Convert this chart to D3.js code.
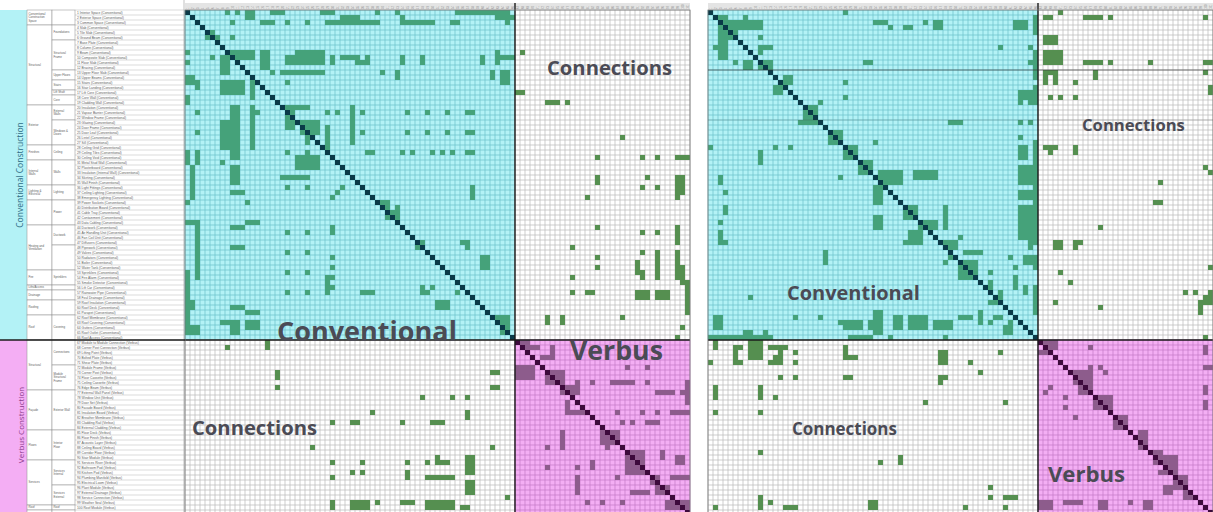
<!DOCTYPE html>
<html>
<head>
<meta charset="utf-8">
<title>DSM conventional vs Verbus</title>
<script src="https://d3js.org/d3.v7.min.js"></script>
<style>
  body { margin: 0; background: #fff; }
  svg { display: block; }
</style>
</head>
<body>
<svg width="1213" height="512"></svg>
<script>
// ---- data ----
const convNames = ["Interior Space","Exterior Space","Common Space","Slab","Tile Slab","Ground Beam","Base Plate","Column","Beam",
  "Composite Slab","Floor Slab","Bracing","Upper Floor Slab","Upper Beams","Stairs","Stair Landing","Lift Core","Core Wall","Cladding Wall",
  "Insulation","Vapour Barrier","Window Frame","Glazing","Door Frame","Door Leaf","Lintel","Sill","Ceiling Grid","Ceiling Tiles","Ceiling Void",
  "Metal Stud Wall","Plasterboard","Insulation (Internal Wall)","Skirting","Wall Finish","Light Fittings","Ceiling Lighting","Emergency Lighting",
  "Power Sockets","Distribution Board","Cable Tray","Containment","Data Cabling","Ductwork","Air Handling Unit","Fan Coil Unit","Diffusers",
  "Pipework","Valves","Radiators","Boiler","Water Tank","Sprinklers","Fire Alarm","Smoke Detector","Lift Car","Rainwater Pipe","Foul Drainage",
  "Roof Insulation","Roof Deck","Parapet","Roof Membrane","Roof Covering","Gutters","Roof Outlet","Roof Access"];
const verbNames = ["Module to Module Connection","Corner Post Connection","Lifting Point","Bolted Plate","Shear Plate","Module Frame",
  "Corner Post","Floor Cassette","Ceiling Cassette","Edge Beam","External Wall Panel","Window Unit","Door Set","Facade Board","Insulation Board",
  "Breather Membrane","Cladding Rail","External Cladding","Floor Deck","Floor Finish","Acoustic Layer","Ceiling Board","Corridor Floor","Stair Module",
  "Services Riser","Bathroom Pod","Kitchen Pod","Plumbing Manifold","Electrical Loom","Plant Module","External Drainage","Service Connection",
  "Weather Seal","Roof Module","Ramp Space"];

// [name, first row, number of rows]
const convGroups1 = [["Conventional Construction Space",0,3],["Structural",3,16],["Exterior",19,8],["Finishes",27,3],["Internal Walls",30,5],
  ["Lighting & Electrical",35,3],["",38,5],["Heating and Ventilation",43,9],["Fire",52,3],["Lifts/Access",55,1],["Drainage",56,2],["Roofing",58,3],["Roof",61,5]];
const convGroups2 = [["",0,3],["Foundations",3,3],["Structural Frame",6,6],["Upper Floors",12,2],["Stairs",14,2],["Lift Shaft",16,1],["Core",17,2],
  ["External Walls",19,3],["Windows & Doors",22,5],["Ceiling",27,3],["Walls",30,5],["Lighting",35,3],["Power",38,5],["Ductwork",43,4],["",47,5],
  ["Sprinklers",52,3],["",55,1],["",56,2],["",58,3],["Covering",61,5]];
const verbGroups1 = [["Structural",66,10],["Façade",76,8],["Floors",84,6],["Services",90,9],["Roof",99,1],["Space",100,1]];
const verbGroups2 = [["Connections",66,5],["Module Structural Frame",71,5],["Exterior Wall",76,8],["Interior Floor",84,6],
  ["Services Internal",90,5],["Services External",95,4],["Roof",99,1],["",100,1]];

// marked cells of the original ordering: [row, col, rows, cols]
const leftCells = [
  [0,8,1,1],[0,10,1,1],[0,12,2,2],[0,17,1,3],[0,27,1,3],[0,38,1,1],[0,42,1,1],[0,54,1,10],[0,64,2,1],
  [1,43,1,1],[1,31,1,4],[1,62,1,2],[1,65,1,1],
  [2,9,1,1],[2,15,1,3],[2,20,1,1],[2,24,1,1],[2,28,1,11],[2,43,1,7],[2,53,1,2],[2,64,1,1],
  [3,3,1,1],[4,4,2,2],[5,6,2,1],[5,9,1,1],
  [8,9,2,5],[8,15,4,2],[8,22,3,6],[8,0,1,1],[8,62,3,1],
  [9,5,1,1],[9,20,2,8],[9,29,2,1],[9,31,1,4],[10,34,1,2],[9,36,2,1],[9,43,2,1],[9,47,2,1],[9,59,2,1],[9,62,1,4],[10,0,1,1],
  [9,7,4,2],[12,17,1,1],[12,19,1,9],[12,39,1,1],[12,42,2,1],[12,61,2,1],[12,63,3,2],
  [13,0,2,2],[13,13,2,1],[14,20,1,1],[14,7,3,5],[14,2,2,1],[15,13,2,1],[17,0,2,1],[17,13,1,1],
  [19,19,1,6],[19,9,9,2],[19,13,9,1],
  [20,2,1,1],[20,14,1,1],[20,28,1,1],[20,30,1,1],[19,33,8,1],[20,35,1,1],[20,44,1,1],[20,48,1,1],[20,52,1,1],[20,56,1,2],
  [20,20,4,2],[22,23,3,4],[22,7,6,2],
  [24,2,1,1],[24,24,3,1],[23,28,5,1],[24,35,1,1],[24,44,1,1],[24,48,1,1],[24,52,1,1],[24,56,1,2],
  [28,0,3,1],[28,2,3,1],[28,9,2,2],[28,20,1,1],[28,24,1,1],[28,28,1,1],[28,36,1,2],[28,43,1,1],[28,45,1,1],[28,49,1,1],[28,51,1,1],[28,53,1,1],[28,56,1,2],
  [29,22,2,5],[30,7,1,1],
  [31,1,7,1],[31,9,4,2],[31,22,1,5],[33,19,1,6],[35,20,1,1],[35,24,1,1],[36,9,1,3],
  [35,31,1,1],[36,30,1,1],[37,29,1,1],[38,0,1,1],[38,12,1,1],[35,57,3,1],
  [38,39,2,2],[40,40,2,3],[39,42,1,1],
  [42,0,1,2],[42,2,12,1],[43,9,1,3],[42,12,1,3],
  [44,20,1,1],[48,20,1,1],[52,20,1,1],[56,20,1,1],[44,24,1,1],[48,24,1,1],[52,24,1,1],[56,24,1,1],
  [43,29,1,1],[44,29,1,1],[49,29,1,1],[51,29,1,1],[53,29,1,1],[55,29,1,1],
  [47,9,1,3],[46,46,2,2],[46,55,1,2],[47,56,1,1],[49,59,3,2],
  [52,0,12,1],[53,28,4,1],[56,35,1,3],[55,47,2,1],[56,48,1,1],[55,49,1,1],[56,54,1,1],[58,50,2,3],
  [58,1,2,1],[59,9,1,3],[60,12,1,3],
  [62,7,1,4],[62,9,3,2],[62,12,2,3],[63,0,2,3],[61,62,2,3],[63,63,2,2],
  // connections, upper right
  [8,67,1,1],[16,66,1,2],[18,72,1,3],[18,76,1,1],[25,87,1,1],
  [29,82,1,1],[29,91,1,1],[29,94,1,1],[29,98,1,3],
  [33,82,2,1],[33,92,1,1],[35,91,1,1],[35,94,1,1],[33,98,4,2],[37,80,1,1],[37,98,1,1],
  [43,82,1,1],[44,91,1,1],[44,94,1,1],[43,98,4,1],[47,77,1,1],
  [49,82,1,1],[48,91,1,1],[48,94,6,1],[48,98,6,1],[51,99,4,1],[54,100,7,1],[51,82,1,1],[50,90,3,1],[52,91,2,1],
  [53,77,1,1],[56,77,1,1],[56,80,1,2],[56,90,2,3],[56,94,2,3],
  [61,72,2,1],[61,75,2,1],[61,87,1,1],[63,99,1,1],[65,98,1,1],
  // connections, lower left
  [67,8,1,1],[66,16,2,1],[72,18,2,1],[75,18,1,1],[72,61,1,2],[75,61,1,2],
  [77,47,1,1],[77,53,1,1],[77,56,1,1],[80,37,1,1],[80,56,2,1],
  [82,29,1,1],[82,33,1,2],[82,43,1,1],[82,49,1,3],[87,25,1,1],[87,61,1,1],
  [90,29,1,1],[90,35,1,1],[90,44,1,1],[90,48,1,1],[89,50,1,1],[90,50,1,3],[89,56,4,2],
  [92,33,1,1],[92,35,1,1],[92,44,1,1],[93,29,1,1],[93,44,1,1],[93,48,1,6],[94,56,3,2],
  [97,64,1,1],[98,29,2,1],[98,33,2,4],[98,38,1,1],[98,43,1,3],[98,48,2,6],[99,55,1,2],
  // verbus
  [66,67,2,2],[67,69,1,2],[67,73,3,1],[69,71,1,3],[71,66,3,4],[72,72,3,4],[71,88,1,1],[71,92,1,1],
  [74,85,1,5],[74,92,1,1],[75,75,2,3],[74,78,3,1],[74,81,1,1],
  [76,94,1,4],[76,99,1,1],[74,100,5,1],
  [78,76,3,1],[80,76,1,4],[80,86,1,1],[80,91,1,1],[80,94,1,1],[80,97,1,4],
  [82,87,1,1],[82,89,1,1],[82,92,1,3],[84,83,3,4],[84,75,4,1],[87,72,1,1],[87,84,1,1],
  [88,88,5,4],[88,95,2,1],[89,98,2,2],[90,81,2,1],[91,72,1,1],[91,78,1,1],
  [93,78,4,1],[93,86,1,1],[93,97,1,4],[93,93,2,2],[95,94,2,3],[96,89,1,4],
  [98,96,2,5],[98,80,1,1],[98,83,1,1],[98,87,1,1]
];

// marked cells of the clustered ordering
const rightCells = [
  [0,27,1,1],[1,2,1,2],[1,7,1,1],[2,3,2,8],[3,2,7,2],[4,4,2,2],[5,10,1,1],[7,10,1,3],[8,10,1,1],[7,1,1,1],
  [10,5,1,1],[10,7,2,2],[10,10,2,3],[10,31,1,2],
  [2,33,1,3],[3,36,1,1],[3,39,1,2],[2,43,1,1],[2,45,2,2],[2,61,2,3],[1,65,4,1],[8,65,6,1],[7,58,1,1],[7,64,1,1],[10,64,1,1],
  [13,15,2,2],[15,13,2,2],[14,27,1,1],[17,27,1,1],[16,62,2,3],[15,65,4,1],[18,62,1,1],[18,64,1,1],[18,22,1,1],
  [19,19,4,3],[22,18,1,1],[22,48,1,3],[22,62,1,1],[22,64,1,1],
  [24,24,3,3],[25,62,1,1],[27,0,1,1],[27,13,1,1],[27,16,1,1],[26,33,1,1],[27,27,3,3],[28,10,3,1],[27,62,3,2],[26,65,7,1],[30,30,3,3],[31,62,1,3],
  [33,2,2,1],[36,3,1,1],[39,3,2,1],[42,2,1,1],[44,2,3,1],[46,3,1,1],
  [33,26,1,1],[32,34,3,5],[32,41,2,5],[35,33,4,2],[41,33,3,2],
  [39,39,3,3],[39,47,5,1],[42,42,2,4],[44,40,2,3],[46,39,1,4],[45,50,1,1],[46,47,2,3],[48,51,1,4],[49,48,1,2],[50,47,1,1],[50,50,4,4],[52,56,1,1],
  [48,23,3,1],[54,56,2,1],[56,58,2,1],[58,56,1,2],
  [32,62,3,3],[32,65,15,1],[49,65,3,1],[55,65,6,1],[36,62,2,3],[39,62,7,3],[45,64,3,1],[49,60,1,1],[49,63,2,2],[51,61,1,1],[53,61,3,1],[55,63,2,1],
  [57,8,1,1],
  [61,1,3,2],[61,17,1,1],[61,22,1,1],[62,26,1,1],[62,27,2,4],[62,32,2,1],[60,33,5,2],[61,37,3,2],[61,40,3,4],[62,45,2,4],[61,50,1,3],[60,54,3,1],[62,56,1,1],
  [61,57,1,2],[63,59,2,2],[62,60,1,1],
  [65,0,1,13],[65,28,1,5],[65,36,1,1],[65,47,1,1],[64,7,1,2],[64,11,1,1],
  // connections, upper right
  [1,67,1,2],[0,70,1,1],[1,75,1,4],[1,80,1,1],[1,99,1,1],
  [5,67,2,3],[8,67,3,4],[10,75,1,4],[10,80,1,1],[10,88,1,1],[10,99,1,2],
  [12,67,3,1],[12,68,1,2],[13,69,2,1],[12,77,2,1],[14,73,1,1],[12,99,1,1],[15,100,2,1],
  [17,68,1,1],[17,70,1,1],[17,73,1,1],
  [27,67,1,3],[28,68,1,1],[27,73,2,1],[31,99,1,1],[32,100,1,1],
  [34,90,1,1],[38,89,1,2],[43,78,1,1],[46,69,2,2],[46,73,2,1],[46,74,1,1],
  [51,100,1,1],[52,70,1,1],[54,72,1,1],[56,95,1,1],[56,97,1,1],[56,100,1,1],
  [58,69,1,1],[59,78,1,1],[58,98,3,1],[57,99,2,2],[65,99,1,1],
  // connections, lower left
  [66,1,2,1],[70,0,1,1],[67,5,4,1],[67,6,1,1],[70,6,1,1],[66,8,4,3],[67,12,1,4],[68,14,1,1],[69,13,1,2],[70,12,1,3],[68,17,1,1],[70,17,1,1],
  [67,27,3,1],[69,28,1,2],[68,46,3,2],[70,52,1,1],[68,58,1,1],[72,54,1,1],
  [73,14,1,1],[73,17,1,1],[73,27,1,2],[73,46,2,1],[73,47,1,1],
  [75,1,3,1],[75,10,3,1],[77,13,1,1],[78,43,1,1],[78,59,1,1],[80,1,1,1],[80,10,1,1],
  [88,10,1,1],[90,34,1,1],[89,38,2,1],[95,56,1,1],[97,56,1,1],[97,59,1,3],
  [97,10,3,1],[98,12,1,1],[99,15,1,3],[99,1,1,1],[98,32,2,2],[99,51,1,1],[99,59,1,1],
  // verbus
  [66,67,2,3],[68,66,1,2],[67,76,1,1],[71,76,1,1],[71,78,1,1],[72,73,3,4],[75,74,2,3],
  [72,79,1,1],[75,68,1,1],[76,67,1,1],[77,71,1,1],[79,71,1,1],[81,73,1,1],
  [77,78,3,3],[78,77,2,1],[81,82,3,2],[82,81,2,1],
  [84,86,4,2],[88,89,3,2],[89,91,4,3],[92,90,1,2],[93,93,3,3],[95,91,2,2],[96,95,2,2],
  [67,99,2,1],[75,99,2,1],[78,99,2,1],[71,99,1,2],
  [98,66,2,3],[98,71,1,4],[98,78,2,2],[98,84,1,1],[98,87,2,2]
];

const blockTitles = ["Conventional", "Connections", "Verbus"];
const sideTitles = ["Conventional Construction", "Verbus Construction"];

// ---- layout ----
const N = convNames.length + verbNames.length;   // 101
const NC = convNames.length;                      // 66
const cell = 5;
const svg = d3.select("svg");

const idx = d3.range(N);
const band = d3.scaleBand().domain(idx).range([0, N * cell]).padding(0);

const col = {
  conv: "#b3f2f6", convLine: "#6cc0c8",
  pink: "#f4aef4", pinkLine: "#c27ac4",
  white: "#ffffff", whiteLine: "#b8b8b8",
  greenIn: "#45a27a", greenOut: "#558f50", purple: "#8d5c8c",
  diagConv: "#0a3a48", diagVerb: "#3d0a3c",
  title: "#4b4b55"
};

function blockOf(r, c) {
  if (r < NC && c < NC) return "conv";
  if (r >= NC && c >= NC) return "verb";
  return "conn";
}

function drawMatrix(ox, oy, cells) {
  const g = svg.append("g").attr("transform", `translate(${ox},${oy})`);
  const full = N * cell;
  const edge = band(NC);
  const blocks = [
    { r0: 0, r1: NC, c0: 0, c1: NC, fill: col.conv, line: col.convLine },
    { r0: 0, r1: NC, c0: NC, c1: N, fill: col.white, line: col.whiteLine },
    { r0: NC, r1: N, c0: 0, c1: NC, fill: col.white, line: col.whiteLine },
    { r0: NC, r1: N, c0: NC, c1: N, fill: col.pink, line: col.pinkLine }
  ];
  blocks.forEach(b => {
    const x0 = band(b.c0), x1 = b.c1 === N ? full : band(b.c1);
    const y0 = band(b.r0), y1 = b.r1 === N ? full : band(b.r1);
    g.append("rect").attr("x", x0).attr("y", y0).attr("width", x1 - x0).attr("height", y1 - y0).attr("fill", b.fill);
    const bg = g.append("g").attr("stroke", b.line).attr("stroke-width", 0.7);
    d3.range(b.c0, b.c1 + 1).forEach(c => {
      const x = c === N ? full : band(c);
      bg.append("line").attr("x1", x).attr("x2", x).attr("y1", y0).attr("y2", y1);
    });
    d3.range(b.r0, b.r1 + 1).forEach(r => {
      const y = r === N ? full : band(r);
      bg.append("line").attr("y1", y).attr("y2", y).attr("x1", x0).attr("x2", x1);
    });
  });

  g.selectAll("rect.mark").data(cells).join("rect")
    .attr("class", "mark")
    .attr("x", d => band(d[1]))
    .attr("y", d => band(d[0]))
    .attr("width", d => band.bandwidth() * d[3])
    .attr("height", d => band.bandwidth() * d[2])
    .attr("fill", d => {
      const b = blockOf(d[0], d[1]);
      return b === "conv" ? col.greenIn : b === "verb" ? col.purple : col.greenOut;
    });

  g.selectAll("rect.diag").data(idx).join("rect")
    .attr("class", "diag")
    .attr("x", d => band(d)).attr("y", d => band(d))
    .attr("width", band.bandwidth()).attr("height", band.bandwidth())
    .attr("fill", d => d < NC ? col.diagConv : col.diagVerb);

  // header strip with column numbers
  const hd = g.append("g");
  hd.append("rect").attr("x", 0).attr("y", -7).attr("width", full).attr("height", 7).attr("fill", "#e4e4e4");
  hd.selectAll("text").data(idx).join("text")
    .attr("transform", d => `translate(${band(d) + 3.5},-1) rotate(-90)`)
    .attr("font-size", 2.6).attr("font-family", "Liberation Sans, sans-serif").attr("fill", "#888")
    .text(d => d + 1);

  // block boundaries
  g.append("line").attr("x1", edge).attr("x2", edge).attr("y1", -7).attr("y2", full).attr("stroke", "#1b1b1b").attr("stroke-width", 1.4);
  g.append("line").attr("x1", 0).attr("x2", full).attr("y1", edge).attr("y2", edge).attr("stroke", "#1b1b1b").attr("stroke-width", 1.4);
  g.append("rect").attr("x", 0).attr("y", 0).attr("width", full).attr("height", full)
    .attr("fill", "none").attr("stroke", "#777").attr("stroke-width", 0.8);
  return g;
}

// ---- left panel: row labels ----
const labelG = svg.append("g").attr("transform", "translate(0,10)");
const colX = { strip: 0, g1: 27, g2: 52, item: 75, end: 184 };
const labelFont = "Liberation Sans, sans-serif";

labelG.append("rect").attr("x", colX.strip).attr("y", band(0)).attr("width", colX.g1).attr("height", band(NC)).attr("fill", col.conv);
labelG.append("rect").attr("x", colX.strip).attr("y", band(NC)).attr("width", colX.g1).attr("height", N * cell - band(NC)).attr("fill", col.pink);

const names = convNames.map((n, i) => `${i + 1} ${n} (Conventional)`)
  .concat(verbNames.map((n, i) => `${NC + i + 1} ${n} (Verbus)`));

labelG.selectAll("line.row").data(d3.range(N + 1)).join("line")
  .attr("class", "row")
  .attr("x1", colX.item).attr("x2", colX.end)
  .attr("y1", d => d === N ? N * cell : band(d)).attr("y2", d => d === N ? N * cell : band(d))
  .attr("stroke", "#b5b5b5").attr("stroke-width", 0.5);
// the last row is cut by the picture edge, as in the source image
labelG.selectAll("text.item").data(names.slice(0, N - 1)).join("text")
  .attr("class", "item")
  .attr("x", colX.item + 2).attr("y", (d, i) => band(i) + 3.9)
  .attr("font-size", 3.3).attr("font-family", labelFont).attr("fill", "#606060")
  .text(d => d);

// break a group name into short lines that fit its cell
function wrapWords(s, maxChars) {
  const out = [];
  let cur = "";
  s.split(" ").forEach(w => {
    if (cur && (cur + " " + w).length > maxChars) { out.push(cur); cur = w; }
    else cur = cur ? cur + " " + w : w;
  });
  if (cur) out.push(cur);
  return out;
}

function groupColumn(groups, x0, x1) {
  const gg = labelG.append("g");
  const lh = 3.4;
  gg.selectAll("rect").data(groups).join("rect")
    .attr("x", x0).attr("y", d => band(d[1]))
    .attr("width", x1 - x0).attr("height", d => band.bandwidth() * d[2])
    .attr("fill", "#fff").attr("stroke", "#8a8a8a").attr("stroke-width", 0.5);
  gg.selectAll("text").data(groups.filter(d => d[0] && d[1] + d[2] < N)).join("text")
    .attr("font-size", 2.9).attr("font-family", labelFont).attr("fill", "#606060")
    .each(function (d) {
      const h = band.bandwidth() * d[2];
      let lines = wrapWords(d[0], 13);
      const maxLines = Math.max(1, Math.floor((h - 0.6) / lh));
      lines = lines.slice(0, maxLines);
      const top = band(d[1]) + h / 2 - (lines.length * lh) / 2 + 2.5;
      d3.select(this).selectAll("tspan").data(lines).join("tspan")
        .attr("x", x0 + 1.5).attr("y", (l, i) => top + i * lh)
        .text(l => l);
    });
}
groupColumn(convGroups1.concat(verbGroups1), colX.g1, colX.g2);
groupColumn(convGroups2.concat(verbGroups2), colX.g2, colX.item);

labelG.append("text")
  .attr("transform", `translate(23,${band(33)}) rotate(-90)`)
  .attr("text-anchor", "middle").attr("font-size", 8.5).attr("font-family", "Open Sans, sans-serif")
  .attr("fill", "#2f6d86").text(sideTitles[0]);
labelG.append("text")
  .attr("transform", `translate(24,${band(83)}) rotate(-90)`)
  .attr("text-anchor", "middle").attr("font-size", 8).attr("font-family", "Open Sans, sans-serif")
  .attr("fill", "#8a3b8c").text(sideTitles[1]);
labelG.append("line").attr("x1", colX.end).attr("x2", colX.end).attr("y1", -10).attr("y2", N * cell).attr("stroke", "#999").attr("stroke-width", 0.6);

drawMatrix(185, 10, leftCells);
drawMatrix(708, 10, rightCells);

// divider line crossing the label columns too
svg.append("line").attr("x1", 0).attr("x2", 185).attr("y1", 10 + band(NC)).attr("y2", 10 + band(NC))
  .attr("stroke", "#1b1b1b").attr("stroke-width", 1.4);
// group separators in the clustered matrix
[12, 22].forEach((r, i) => {
  svg.append("line").attr("x1", 708).attr("x2", 1213).attr("y1", 10 + band(r)).attr("y2", 10 + band(r))
    .attr("stroke", "#333").attr("stroke-width", i === 0 ? 0.8 : 0.4).attr("stroke-opacity", i === 0 ? 0.8 : 0.5);
});

// ---- block titles ----
const titles = [
  { t: 0, x: 277, w: 180, y: 341 },
  { t: 1, x: 547, w: 125, y: 75 },
  { t: 2, x: 570, w: 93, y: 360 },
  { t: 1, x: 192, w: 125, y: 435 },
  { t: 1, x: 1082, w: 103, y: 131 },
  { t: 0, x: 787, w: 133, y: 300 },
  { t: 1, x: 792, w: 105, y: 435 },
  { t: 2, x: 1048, w: 77, y: 482 }
];
titles.forEach(d => {
  const t = svg.append("text")
    .attr("x", d.x).attr("y", d.y)
    .attr("font-family", "Open Sans, sans-serif").attr("font-weight", 700)
    .attr("font-size", 20).attr("fill", col.title)
    .text(blockTitles[d.t]);
  const w = t.node().getComputedTextLength();
  t.attr("font-size", 20 * d.w / w);
});
</script>
</body>
</html>
